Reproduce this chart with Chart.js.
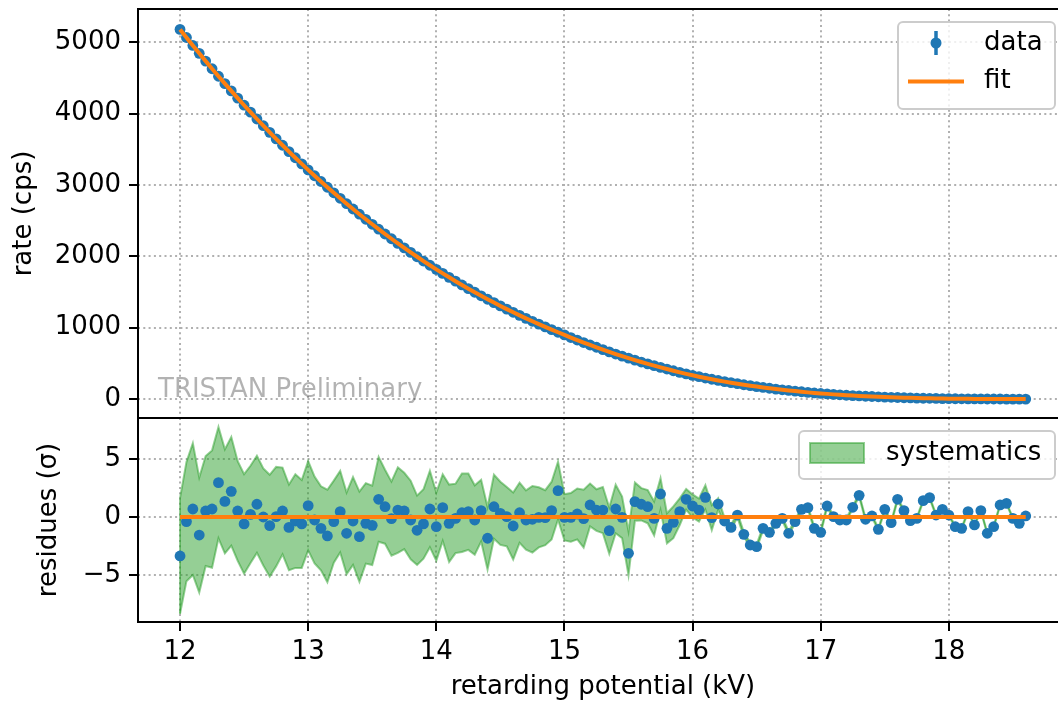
<!DOCTYPE html>
<html>
<head>
<meta charset="utf-8">
<script src="https://cdn.jsdelivr.net/npm/chart.js@4/dist/chart.umd.min.js"></script>
<style>
  html, body { margin: 0; padding: 0; background: #fff; overflow: hidden; width: 1058px; height: 703px; }
  canvas { position: absolute; left: 0; }
  #rateChart { top: 0; }
  #residChart { top: 418px; }
</style>
</head>
<body>
<canvas id="rateChart" width="1072" height="420"></canvas>
<canvas id="residChart" width="1072" height="285"></canvas>
<script>
// Retarding potential of each measurement point (kV)
const voltage = [
  12.00, 12.05, 12.10, 12.15, 12.20, 12.25, 12.30, 12.35, 12.40, 12.45,
  12.50, 12.55, 12.60, 12.65, 12.70, 12.75, 12.80, 12.85, 12.90, 12.95,
  13.00, 13.05, 13.10, 13.15, 13.20, 13.25, 13.30, 13.35, 13.40, 13.45,
  13.50, 13.55, 13.60, 13.65, 13.70, 13.75, 13.80, 13.85, 13.90, 13.95,
  14.00, 14.05, 14.10, 14.15, 14.20, 14.25, 14.30, 14.35, 14.40, 14.45,
  14.50, 14.55, 14.60, 14.65, 14.70, 14.75, 14.80, 14.85, 14.90, 14.95,
  15.00, 15.05, 15.10, 15.15, 15.20, 15.25, 15.30, 15.35, 15.40, 15.45,
  15.50, 15.55, 15.60, 15.65, 15.70, 15.75, 15.80, 15.85, 15.90, 15.95,
  16.00, 16.05, 16.10, 16.15, 16.20, 16.25, 16.30, 16.35, 16.40, 16.45,
  16.50, 16.55, 16.60, 16.65, 16.70, 16.75, 16.80, 16.85, 16.90, 16.95,
  17.00, 17.05, 17.10, 17.15, 17.20, 17.25, 17.30, 17.35, 17.40, 17.45,
  17.50, 17.55, 17.60, 17.65, 17.70, 17.75, 17.80, 17.85, 17.90, 17.95,
  18.00, 18.05, 18.10, 18.15, 18.20, 18.25, 18.30, 18.35, 18.40, 18.45,
  18.50, 18.55, 18.60
];

// Measured count rate (cps)
const rate = [
  5179, 5066, 4954, 4844, 4735, 4628, 4523, 4419, 4317, 4216,
  4117, 4020, 3924, 3830, 3737, 3646, 3556, 3467, 3381, 3295,
  3211, 3129, 3048, 2968, 2890, 2813, 2737, 2663, 2590, 2519,
  2449, 2380, 2313, 2246, 2181, 2118, 2055, 1994, 1934, 1875,
  1818, 1761, 1706, 1652, 1599, 1547, 1497, 1447, 1399, 1352,
  1305, 1260, 1216, 1173, 1131, 1090, 1050, 1011, 973, 936,
  899, 862, 827, 792, 758, 726, 693, 661, 631, 601,
  573, 545, 519, 494, 469, 444, 421, 397, 375, 353,
  333, 314, 295, 278, 261, 245, 230, 216, 201, 188,
  175, 163, 152, 140, 130, 121, 112, 103, 94, 86,
  79, 73, 66, 60, 54, 49, 44, 40, 36, 32,
  28, 25, 22, 19, 17, 14, 12, 11, 9, 7,
  6, 5, 4, 3, 2, 2, 1, 1, 1, 0,
  0, 0, 0
];

// Fitted model rate (cps)
const fitRate = [
  5179, 5066, 4954, 4844, 4735, 4628, 4523, 4419, 4317, 4216,
  4117, 4020, 3924, 3830, 3737, 3646, 3556, 3467, 3381, 3295,
  3211, 3129, 3048, 2968, 2890, 2813, 2737, 2663, 2590, 2519,
  2449, 2380, 2313, 2246, 2181, 2118, 2055, 1994, 1934, 1875,
  1818, 1761, 1706, 1652, 1599, 1547, 1497, 1447, 1399, 1352,
  1305, 1260, 1216, 1173, 1131, 1090, 1050, 1011, 973, 936,
  899, 862, 827, 792, 758, 726, 693, 661, 631, 601,
  573, 545, 519, 494, 469, 444, 421, 397, 375, 353,
  333, 314, 295, 278, 261, 245, 230, 216, 201, 188,
  175, 163, 152, 140, 130, 121, 112, 103, 94, 86,
  79, 73, 66, 60, 54, 49, 44, 40, 36, 32,
  28, 25, 22, 19, 17, 14, 12, 11, 9, 7,
  6, 5, 4, 3, 2, 2, 1, 1, 1, 0,
  0, 0, 0
];

// Normalised residuals (data - fit) / sigma
const residuals = [
  -3.37, -0.40, 0.69, -1.56, 0.52, 0.69, 2.97, 1.35, 2.22, 0.52,
  -0.60, 0.23, 1.10, 0.00, -0.75, 0.03, 0.52, -0.90, -0.35, -0.60,
  0.98, -0.26, -0.98, -1.64, -0.40, 0.46, -1.41, -0.35, -1.70, -0.55,
  -0.72, 1.53, 0.89, -0.14, 0.60, 0.52, -0.26, -1.15, -0.60, 0.69,
  -0.84, 0.81, -0.55, -0.12, 0.37, 0.46, -0.26, 0.55, -1.84, 0.89,
  0.32, 0.03, -0.78, 0.37, -0.26, -0.20, -0.03, -0.06, 0.55, 2.28,
  -0.03, -0.03, 0.26, -0.14, 1.04, 0.60, 0.60, -1.18, 0.69, -0.03,
  -3.14, 1.33, 1.10, 0.89, -0.12, 1.99, -0.98, -0.46, 0.46, 1.53,
  0.95, 0.60, 1.70, -0.05, 1.12, -0.35, -0.90, 0.17, -1.50, -2.42,
  -2.56, -0.98, -1.33, -0.55, -0.12, -1.41, -0.40, 0.66, 0.81, -0.98,
  -1.33, 0.95, 0.03, -0.26, -0.26, 0.84, 1.87, -0.20, 0.09, -1.07,
  0.66, -0.49, 1.53, 0.55, -0.32, -0.12, 1.41, 1.67, 0.17, 0.66,
  0.17, -0.84, -0.98, 0.46, -0.69, 0.55, -1.41, -0.84, 1.04, 1.18,
  -0.12, -0.55, 0.09
];

// Systematic uncertainty half-width around each residual (sigma)
const sysWidth = [
  5.00, 5.15, 5.70, 4.97, 4.75, 5.07, 4.82, 4.50, 4.70, 4.30,
  4.30, 4.20, 4.20, 4.20, 4.40, 4.30, 3.75, 3.70, 4.05, 3.80,
  3.86, 3.75, 3.63, 4.00, 3.55, 3.53, 3.53, 3.80, 3.90, 3.48,
  3.43, 3.67, 3.20, 3.20, 3.70, 3.30, 3.40, 3.00, 3.00, 3.30,
  2.95, 2.88, 3.35, 3.00, 3.40, 3.30, 3.00, 2.67, 2.70, 2.77,
  2.73, 2.56, 2.90, 2.60, 2.56, 2.88, 2.60, 2.38, 2.50, 2.50,
  2.00, 2.10, 2.20, 2.50, 1.85, 1.80, 2.00, 2.00, 2.10, 1.80,
  1.90, 1.66, 1.40, 1.44, 1.47, 1.37, 1.30, 1.37, 1.15, 0.90,
  1.00, 1.00, 1.05, 1.08, 0.50, 0.25, 0.22, 0.20, 0.20, 0.19,
  0.18, 0.18, 0.17, 0.17, 0.16, 0.16, 0.15, 0.15, 0.15, 0.14,
  0.14, 0.14, 0.13, 0.13, 0.13, 0.12, 0.12, 0.12, 0.11, 0.11,
  0.11, 0.10, 0.10, 0.10, 0.10, 0.09, 0.09, 0.09, 0.09, 0.08,
  0.08, 0.08, 0.08, 0.08, 0.07, 0.07, 0.07, 0.07, 0.07, 0.06,
  0.06, 0.06, 0.06
];

const xTicks = [12, 13, 14, 15, 16, 17, 18];
const rateTicks = [0, 1000, 2000, 3000, 4000, 5000];
const residTicks = [-5, 0, 5];

// ---- styling ----
const FONT_FAMILY = '"DejaVu Sans", "Liberation Sans", sans-serif';
const FONT_SIZE = 26;
const BLUE = '#1f77b4';
const ORANGE = '#ff7f0e';
const GREEN_FILL = 'rgba(44,160,44,0.5)';
const GRID = '#b0b0b0';
const DOTS = [2, 3.3];
const X_MIN = 11.672, X_MAX = 18.93;

Chart.defaults.font.family = FONT_FAMILY;
Chart.defaults.font.size = FONT_SIZE;
Chart.defaults.color = '#000';

const minusLabel = v => (v < 0 ? '\u2212' + Math.abs(v) : String(v));

// drop the half-label padding Chart.js reserves at the ends of an axis
const noEdgePadding = s => { s.paddingTop = 0; s.paddingBottom = 0; s.paddingLeft = 0; s.paddingRight = 0; };

function xScale(showLabels, height) {
  return {
    type: 'linear',
    min: X_MIN,
    max: X_MAX,
    afterBuildTicks: s => { s.ticks = xTicks.map(v => ({ value: v })); },
    afterFit: s => { s.height = height; noEdgePadding(s); },
    ticks: { display: showLabels, autoSkip: false, padding: 6, maxRotation: 0 },
    grid: {
      color: GRID, lineWidth: 2, drawTicks: showLabels, tickLength: 9,
      tickColor: '#000', tickWidth: 2, tickBorderDash: []
    },
    border: { display: false, dash: DOTS }
  };
}

function yScale(min, max, ticks, label, titlePad) {
  return {
    min, max,
    afterBuildTicks: s => { s.ticks = ticks.map(v => ({ value: v })); },
    afterFit: s => { s.width = 138; noEdgePadding(s); },
    ticks: { padding: 8, callback: minusLabel },
    grid: {
      color: GRID, lineWidth: 2, tickLength: 9,
      tickColor: '#000', tickWidth: 2, tickBorderDash: []
    },
    border: { display: false, dash: DOTS },
    title: { display: true, text: label, padding: { top: titlePad, bottom: 0 } }
  };
}

function legendFrame(ctx, x, y, w, h) {
  ctx.beginPath();
  ctx.roundRect(x, y, w, h, 5);
  ctx.fillStyle = 'rgba(255,255,255,0.8)';
  ctx.fill();
  ctx.lineWidth = 2;
  ctx.strokeStyle = '#cccccc';
  ctx.stroke();
}

function drawFrame(chart) {
  const a = chart.chartArea, c = chart.ctx;
  c.save();
  c.strokeStyle = '#000';
  c.lineWidth = 2;
  c.strokeRect(a.left, a.top, a.right - a.left, a.bottom - a.top);
  c.restore();
}

// frame, legend and watermark of the rate panel
const ratePanelDecor = {
  id: 'ratePanelDecor',
  afterDraw(chart) {
    drawFrame(chart);
    const a = chart.chartArea, c = chart.ctx;
    const ds = chart.data.datasets;
    const dataLabel = ds.find(d => d.key === 'data').label;
    const fitLabel = ds.find(d => d.key === 'fit').label;
    c.save();
    // watermark
    c.font = FONT_SIZE + 'px ' + FONT_FAMILY;
    c.fillStyle = 'rgba(0,0,0,0.3)';
    c.textAlign = 'left';
    c.textBaseline = 'alphabetic';
    c.fillText('TRISTAN Preliminary', a.left + 20, a.bottom - 21);
    // legend
    const w = 157, h = 87;
    const bx = a.right - 13 - w, by = a.top + 13;
    legendFrame(c, bx, by, w, h);
    const r1 = by + 21, r2 = by + 59.5;
    c.strokeStyle = BLUE; c.lineWidth = 3.5;
    c.beginPath(); c.moveTo(bx + 38, r1 - 12); c.lineTo(bx + 38, r1 + 12); c.stroke();
    c.fillStyle = BLUE;
    c.beginPath(); c.arc(bx + 38, r1, 5.5, 0, Math.PI * 2); c.fill();
    c.strokeStyle = ORANGE; c.lineWidth = 4;
    c.beginPath(); c.moveTo(bx + 10, r2); c.lineTo(bx + 66, r2); c.stroke();
    c.fillStyle = '#000';
    c.textBaseline = 'middle';
    c.fillText(dataLabel, bx + 86, r1);
    c.fillText(fitLabel, bx + 86, r2);
    c.restore();
  }
};

// frame, band end caps and legend of the residual panel
const residPanelDecor = {
  id: 'residPanelDecor',
  afterDraw(chart) {
    drawFrame(chart);
    const a = chart.chartArea, c = chart.ctx;
    const label = chart.data.datasets.find(d => d.key === 'band').label;
    c.save();
    const w = 256, h = 48;
    const bx = a.right - 13 - w, by = a.top + 13;
    legendFrame(c, bx, by, w, h);
    c.fillStyle = GREEN_FILL; c.strokeStyle = GREEN_FILL; c.lineWidth = 2;
    c.fillRect(bx + 11, by + 12, 54, 20);
    c.strokeRect(bx + 11, by + 12, 54, 20);
    c.fillStyle = '#000';
    c.font = FONT_SIZE + 'px ' + FONT_FAMILY;
    c.textAlign = 'left';
    c.textBaseline = 'middle';
    c.fillText(label, bx + 87, by + 22);
    c.restore();
  },
  beforeDatasetsDraw(chart) {
    // closing edges of the systematics band at both ends
    const c = chart.ctx, xs = chart.scales.x, ys = chart.scales.y;
    const n = voltage.length - 1;
    c.save();
    c.strokeStyle = GREEN_FILL; c.lineWidth = 2;
    [0, n].forEach(i => {
      const px = xs.getPixelForValue(voltage[i]);
      c.beginPath();
      c.moveTo(px, ys.getPixelForValue(residuals[i] + sysWidth[i]));
      c.lineTo(px, ys.getPixelForValue(residuals[i] - sysWidth[i]));
      c.stroke();
    });
    c.restore();
  }
};

const pts = ys => voltage.map((v, i) => ({ x: v, y: ys[i] }));

new Chart(document.getElementById('rateChart'), {
  type: 'line',
  data: {
    datasets: [
      { key: 'fit', label: 'fit', data: pts(fitRate), borderColor: ORANGE, borderWidth: 4,
        pointRadius: 0, tension: 0, order: 0 },
      { key: 'data', label: 'data', data: pts(rate), showLine: false, pointRadius: 5.4,
        pointBackgroundColor: BLUE, pointBorderWidth: 0, borderColor: BLUE, order: 1 }
    ]
  },
  options: {
    responsive: false, animation: false, devicePixelRatio: 1,
    layout: { autoPadding: false, padding: { top: 9, bottom: 2, left: 0, right: 4 } },
    plugins: { legend: { display: false }, tooltip: { enabled: false } },
    scales: {
      x: xScale(false, 0),
      y: yScale(-265, 5465, rateTicks, 'rate (cps)', 9)
    }
  },
  plugins: [ratePanelDecor]
});

new Chart(document.getElementById('residChart'), {
  type: 'line',
  data: {
    datasets: [
      { key: 'band', label: 'systematics', data: pts(residuals.map((r, i) => r + sysWidth[i])),
        borderColor: GREEN_FILL, backgroundColor: GREEN_FILL, borderWidth: 2,
        pointRadius: 0, tension: 0, fill: '+1', order: 2 },
      { key: 'bandLow', label: 'systematics low', data: pts(residuals.map((r, i) => r - sysWidth[i])),
        borderColor: GREEN_FILL, borderWidth: 2, pointRadius: 0, tension: 0, fill: false, order: 2 },
      { key: 'resid', label: 'residuals', data: pts(residuals), showLine: false, pointRadius: 5.4,
        pointBackgroundColor: BLUE, pointBorderWidth: 0, borderColor: BLUE, order: 1 },
      { key: 'zero', label: 'fit', data: pts(voltage.map(() => 0)), borderColor: ORANGE,
        borderWidth: 4, pointRadius: 0, order: 0 }
    ]
  },
  options: {
    responsive: false, animation: false, devicePixelRatio: 1,
    layout: { autoPadding: false, padding: { top: 0, bottom: 0, left: 0, right: 4 } },
    plugins: { legend: { display: false }, tooltip: { enabled: false } },
    scales: {
      x: Object.assign(xScale(true, 81), {
        title: { display: true, text: 'retarding potential (kV)', padding: { top: 0, bottom: 0 } }
      }),
      y: yScale(-9.08, 8.56, residTicks, 'residues (\u03c3)', 34)
    }
  },
  plugins: [residPanelDecor]
});
</script>
</body>
</html>
